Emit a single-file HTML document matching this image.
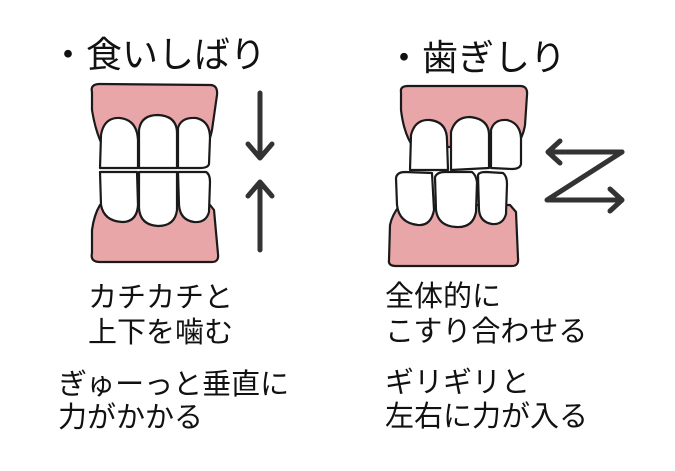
<!DOCTYPE html>
<html><head><meta charset="utf-8"><style>
html,body{margin:0;padding:0;background:#fff;}
svg{display:block}
text{font-family:"Liberation Sans","Noto Sans CJK JP",sans-serif;fill:#111;}
</style></head><body>
<svg width="675" height="471" viewBox="0 0 675 471" xmlns="http://www.w3.org/2000/svg">
<g stroke="#1a1a1a" stroke-width="2.2" stroke-linejoin="round">
<path d="M92,92 Q90,84 100,84 L210,85 Q218,85 217,95 L212,130 Q210,140 205,150 L105,150 Q96,135 92,110 Z" fill="#e8a6a8"/>
<path d="M92,253 Q90,262 100,262 L212,262 Q219,262 218,254 L214,210 L210,205 L100,205 Q94,215 92,230 Z" fill="#e8a6a8"/>
<path d="M100,168 L101,135 Q104,117 120,118 Q137,120 138,140 L138,168 Z" fill="#fff"/>
<path d="M139,168 L139,130 Q141,115 158,115 Q177,116 177,133 L177,168 Z" fill="#fff"/>
<path d="M178,168 L178,128 Q181,117 196,118 Q210,121 210,138 L209,164 Q208,168 200,168 Z" fill="#fff"/>
<path d="M100,172 L137,172 L138,205 Q137,222 122,222 Q104,221 101,205 Z" fill="#fff"/>
<path d="M139,172 L177,172 L177,210 Q175,226 158,226 Q140,225 139,208 Z" fill="#fff"/>
<path d="M178,172 L206,172 Q210,174 210,182 L209,212 Q206,223 194,222 Q180,220 179,205 Z" fill="#fff"/>
<path d="M401,92 Q400,86 408,86 L520,86 Q528,86 527,95 L525,125 Q523,138 516,145 L414,148 Q404,135 401,110 Z" fill="#e8a6a8"/>
<path d="M389,260 Q388,266 396,266 L512,266 Q519,266 518,258 L516,212 L510,205 L400,205 Q392,215 390,225 Z" fill="#e8a6a8"/>
<path d="M410,170 L411,135 Q415,119 430,120 Q447,122 447,140 L448,170 Z" fill="#fff"/>
<path d="M451,170 L451,132 Q455,117 470,117 Q489,119 489,135 L489,168 Z" fill="#fff"/>
<path d="M491,168 L491,130 Q494,119 507,120 Q520,123 521,138 L521,164 Q520,169 512,169 Z" fill="#fff"/>
<path d="M396,178 Q397,172 405,172 L432,173 L434,210 Q431,226 418,225 Q399,223 397,205 Z" fill="#fff"/>
<path d="M435,177 Q437,172 445,172 L472,172 Q476,175 477,182 L476,212 Q473,228 456,227 Q438,226 436,210 Z" fill="#fff"/>
<path d="M478,175 Q479,172 486,172 L503,173 Q507,176 507,184 L506,214 Q503,225 492,224 Q480,222 479,210 Z" fill="#fff"/>
</g>
<g stroke="#333" stroke-width="5" stroke-linecap="round" stroke-linejoin="round" fill="none">
<path d="M260,93 L260,158 M248,144 L260,158 L272,144"/>
<path d="M260,250 L260,182 M248,196 L260,182 L272,196"/>
<path d="M622,152 L548,152 M560,141 L548,152 L560,163"/>
<path d="M622,152 L547,200 L622,200 M610,189 L622,200 L610,211"/>
</g>
<g font-size="36">
<text x="50" y="67">・食いしばり</text>
<text x="386" y="70">・歯ぎしり</text>
</g>
<g font-size="29">
<text x="88" y="307">カチカチと</text>
<text x="88" y="342">上下を噛む</text>
<text x="58" y="394">ぎゅーっと垂直に</text>
<text x="58" y="427">力がかかる</text>
<text x="385" y="306">全体的に</text>
<text x="385" y="341">こすり合わせる</text>
<text x="385" y="392">ギリギリと</text>
<text x="385" y="426">左右に力が入る</text>
</g>
</svg>
</body></html>
